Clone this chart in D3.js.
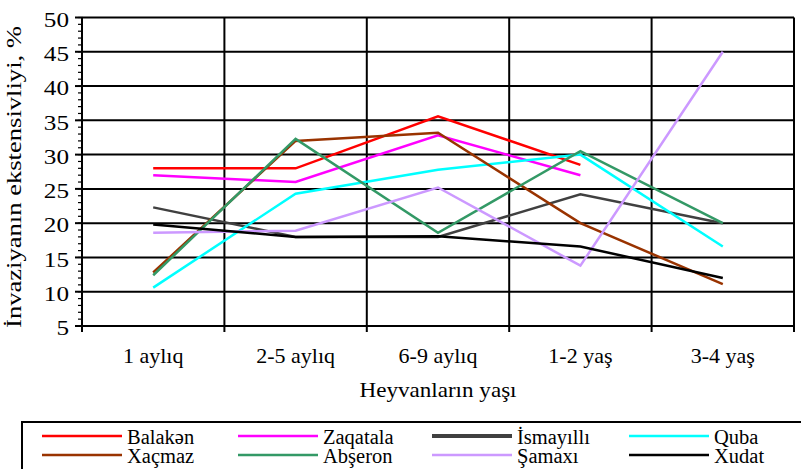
<!DOCTYPE html>
<html>
<head>
<meta charset="utf-8">
<script src="https://cdn.jsdelivr.net/npm/d3@7"></script>
<style>
  html, body { margin: 0; padding: 0; background: #fff; }
  svg { display: block; font-family: "Liberation Serif", "Times New Roman", serif; }
</style>
</head>
<body>
<svg id="chart" width="801" height="469"></svg>
<script>
// ---- data ----
const categories = ["1 aylıq", "2-5 aylıq", "6-9 aylıq", "1-2 yaş", "3-4 yaş"];
const seriesNames = ["Balakən", "Zaqatala", "İsmayıllı", "Quba", "Xaçmaz", "Abşeron", "Şamaxı", "Xudat"];
const balaken   = [28.0, 28.0, 35.6, 28.5, null];
const zaqatala  = [27.0, 26.0, 32.8, 27.0, null];
const ismayilli = [22.3, 18.0, 18.0, 24.2, 20.0];
const quba      = [10.6, 24.3, 27.8, 30.0, 16.6];
const xacmaz    = [12.8, 32.0, 33.2, 20.0, 11.1];
const abseron   = [12.4, 32.3, 18.6, 30.5, 20.0];
const samaxi    = [18.6, 18.9, 25.2, 13.8, 45.0];
const xudat     = [19.8, 18.0, 18.1, 16.6, 12.0];
const yTicks = [5, 10, 15, 20, 25, 30, 35, 40, 45, 50];
const yTitle = "İnvaziyanın ekstensivliyi, %";
const xTitle = "Heyvanların yaşı";

const seriesValues = [balaken, zaqatala, ismayilli, quba, xacmaz, abseron, samaxi, xudat];
const colors = ["#ff0000", "#ff00ff", "#404040", "#00ffff", "#993300", "#339966", "#cc99ff", "#000000"];

// ---- layout ----
const L = 82, R = 794, T = 17.5, B = 326;
const svg = d3.select("#chart");

const x = d3.scaleBand().domain(categories).range([L, R]).padding(0);
const y = d3.scaleLinear().domain([5, 50]).range([B, T]);

// horizontal gridlines
svg.append("g").selectAll("line").data(yTicks).join("line")
  .attr("x1", L).attr("x2", R)
  .attr("y1", d => y(d)).attr("y2", d => y(d))
  .attr("stroke", "#000").attr("stroke-width", 2);

// vertical category boundaries
const bounds = categories.map(c => x(c)).concat([R]);
svg.append("g").selectAll("line").data(bounds).join("line")
  .attr("x1", d => d).attr("x2", d => d)
  .attr("y1", T).attr("y2", B + 6)
  .attr("stroke", "#000").attr("stroke-width", 2);

// y axis with minor ticks
const minor = d3.range(5, 51, 1);
svg.append("g").selectAll("line").data(minor).join("line")
  .attr("x1", L - 4).attr("x2", L + 1)
  .attr("y1", d => y(d)).attr("y2", d => y(d))
  .attr("stroke", "#000").attr("stroke-width", 1.2);
svg.append("g").selectAll("line").data(yTicks).join("line")
  .attr("x1", L - 7).attr("x2", L)
  .attr("y1", d => y(d)).attr("y2", d => y(d))
  .attr("stroke", "#000").attr("stroke-width", 2);
svg.append("line").attr("x1", L).attr("x2", L).attr("y1", T).attr("y2", B)
  .attr("stroke", "#000").attr("stroke-width", 2);

// y tick labels
svg.append("g").selectAll("g").data(yTicks).join("g")
  .attr("transform", d => `translate(69,${y(d) + 2}) scale(1.2,1)`)
  .append("text")
  .attr("text-anchor", "end").attr("dominant-baseline", "central")
  .attr("font-size", 21).attr("fill", "#000")
  .text(d => d);

// x tick labels
svg.append("g").selectAll("g").data(categories).join("g")
  .attr("transform", d => `translate(${x(d) + x.bandwidth() / 2},362.5) scale(1.1,1)`)
  .append("text")
  .attr("text-anchor", "middle").attr("font-size", 20).attr("fill", "#000")
  .text(d => d);

// axis titles
svg.append("g").attr("transform", `translate(${(L + R) / 2},397) scale(1.1,1)`)
  .append("text").attr("text-anchor", "middle").attr("font-size", 21).attr("fill", "#000")
  .text(xTitle);
svg.append("g").attr("transform", `translate(21,177) rotate(-90) scale(1.33,1)`)
  .append("text").attr("text-anchor", "middle").attr("font-size", 20).attr("fill", "#000")
  .text(yTitle);

// series lines
const line = d3.line()
  .defined(d => d.v !== null)
  .x(d => x(d.c) + x.bandwidth() / 2)
  .y(d => y(d.v));
seriesValues.forEach((vals, i) => {
  svg.append("path")
    .datum(categories.map((c, j) => ({ c, v: vals[j] })))
    .attr("d", line)
    .attr("fill", "none")
    .attr("stroke", colors[i])
    .attr("stroke-width", 2.5)
    .attr("stroke-linejoin", "miter");
});

// legend
svg.append("rect").attr("x", 22).attr("y", 422).attr("width", 800).attr("height", 60)
  .attr("fill", "#fff").attr("stroke", "#000").attr("stroke-width", 2);
const colX = [42, 238, 432, 629];
const rowY = [436, 455];
seriesNames.forEach((name, i) => {
  const col = i % 4, row = Math.floor(i / 4);
  const gx = colX[col], gy = rowY[row];
  svg.append("line").attr("x1", gx).attr("x2", gx + 80).attr("y1", gy).attr("y2", gy)
    .attr("stroke", colors[i]).attr("stroke-width", i === 2 ? 4 : 2.5);
  svg.append("text").attr("x", gx + 85).attr("y", gy + 8)
    .attr("font-size", 20.5).attr("fill", "#000").text(name);
});
</script>
</body>
</html>
